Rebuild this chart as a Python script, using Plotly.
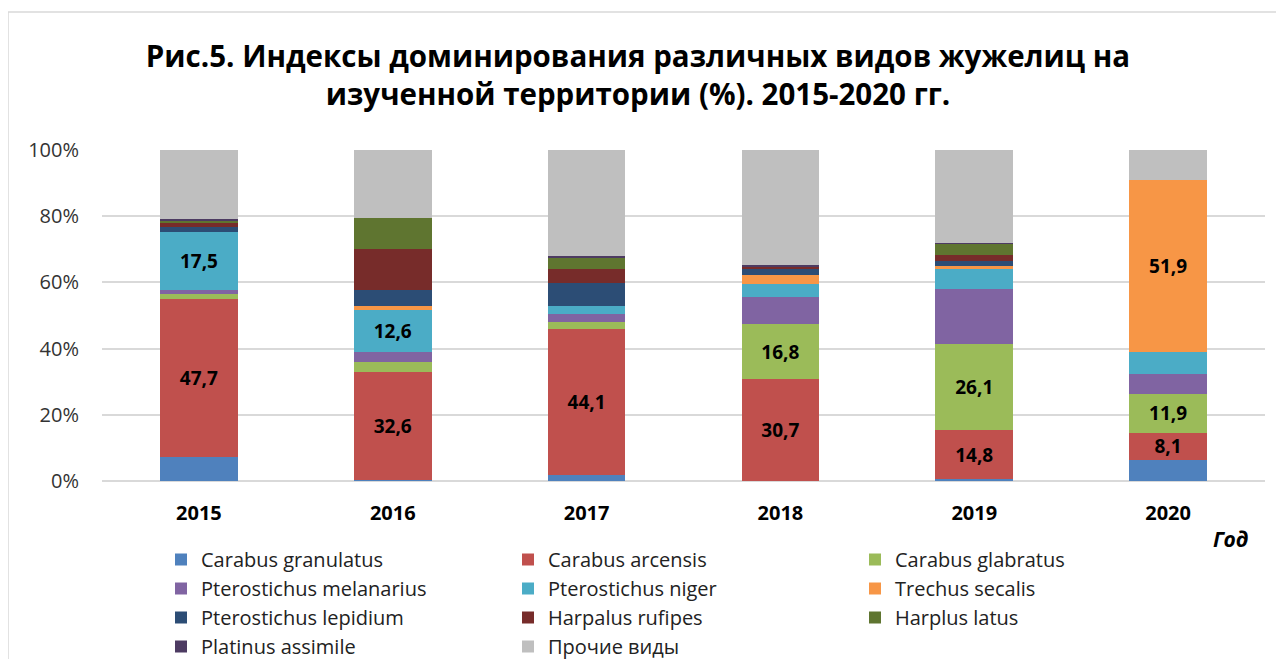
import plotly.graph_objects as go

years = ["2015", "2016", "2017", "2018", "2019", "2020"]

series_names = [
    "Carabus granulatus", "Carabus arcensis", "Carabus glabratus",
    "Pterostichus melanarius", "Pterostichus niger", "Trechus secalis",
    "Pterostichus lepidium", "Harpalus rufipes", "Harplus latus",
    "Platinus assimile", "Прочие виды",
]

carabus_granulatus = [7.3, 0.2, 1.7, 0.0, 0.6, 6.4]
carabus_arcensis = [47.7, 32.6, 44.1, 30.7, 14.8, 8.1]
carabus_glabratus = [1.6, 3.3, 2.1, 16.8, 26.1, 11.9]
pterostichus_melanarius = [1.2, 3.0, 2.5, 8.0, 16.5, 6.0]
pterostichus_niger = [17.5, 12.6, 2.5, 3.9, 6.0, 6.7]
trechus_secalis = [0.0, 1.2, 0.0, 2.9, 1.0, 51.9]
pterostichus_lepidium = [1.4, 4.8, 6.9, 2.0, 1.6, 0.0]
harpalus_rufipes = [1.1, 12.3, 4.3, 0.6, 1.6, 0.0]
harplus_latus = [0.9, 9.6, 3.3, 0.0, 3.4, 0.0]
platinus_assimile = [0.4, 0.0, 0.7, 0.4, 0.2, 0.0]
prochie_vidy = [20.9, 20.4, 31.9, 34.7, 28.2, 9.0]

series_values = [
    carabus_granulatus, carabus_arcensis, carabus_glabratus,
    pterostichus_melanarius, pterostichus_niger, trechus_secalis,
    pterostichus_lepidium, harpalus_rufipes, harplus_latus,
    platinus_assimile, prochie_vidy,
]

# which segments carry a data label (series index -> years labelled)
labelled = {
    1: ["2015", "2016", "2017", "2018", "2019", "2020"],
    2: ["2018", "2019", "2020"],
    4: ["2015", "2016"],
    5: ["2020"],
}

colors = [
    "#4F81BD", "#C0504D", "#9BBB59", "#8064A2", "#4BACC6", "#F79646",
    "#2C4D75", "#772C2A", "#5F7530", "#4D3B62", "#BFBFBF",
]

FONT = "Open Sans"

fig = go.Figure()
for i, (name, vals) in enumerate(zip(series_names, series_values)):
    txt = [
        (f"{v:.1f}".replace(".", ",") if y in labelled.get(i, []) else "")
        for y, v in zip(years, vals)
    ]
    fig.add_trace(go.Bar(
        x=years, y=vals, name=name,
        marker=dict(color=colors[i], line=dict(width=0)),
        text=txt, textposition="inside", insidetextanchor="middle",
        textangle=0, constraintext="none",
        textfont=dict(family=FONT, size=19, color="black", weight="bold"),
        hoverinfo="skip",
    ))

# page offset (body margin) between figure coords and picture coords
OFF = 8
W, H = 1284, 659
# plot area in picture pixels
PX_L, PX_R, PX_T, PX_B = 102, 1265, 150, 481
L = PX_L - OFF
T = PX_T - OFF
R = W - (PX_R - OFF)
B = H - (PX_B - OFF)
pw = W - L - R
ph = H - T - B


def px_to_paper_x(px):
    return (px - PX_L) / pw


def px_to_paper_y(py):
    return (PX_B - py) / ph


fig.update_layout(
    width=W, height=H,
    barmode="stack", bargap=0.6,
    plot_bgcolor="white", paper_bgcolor="white",
    margin=dict(l=L, r=R, t=T, b=B, autoexpand=False),
    font=dict(family=FONT, color="#222222"),
    title=dict(
        text="Рис.5. Индексы доминирования различных видов жужелиц на<br>изученной территории (%). 2015-2020 гг.",
        font=dict(family=FONT, size=29.5, color="black", weight="bold"),
        x=(638 - OFF) / W, xanchor="center", xref="container",
        y=1 - (67 - OFF) / H, yanchor="top", yref="container",
    ),
    xaxis=dict(
        type="category", showgrid=False, showline=False, ticks="",
        tickfont=dict(family=FONT, size=20, color="black", weight="bold"),
        ticklabelstandoff=18,
    ),
    yaxis=dict(
        range=[0, 100], tickvals=[0, 20, 40, 60, 80, 100],
        ticktext=["0%", "20%", "40%", "60%", "80%", "100%"],
        showgrid=True, gridcolor="#D9D9D9", gridwidth=1.5,
        zeroline=True, zerolinecolor="#D9D9D9", zerolinewidth=1.5,
        showline=False, ticks="",
        tickfont=dict(family=FONT, size=20, color="#333333"),
        ticklabelstandoff=22,
    ),
    legend=dict(
        orientation="h", traceorder="normal",
        x=px_to_paper_x(161), xanchor="left",
        y=px_to_paper_y(540), yanchor="top",
        entrywidth=302, entrywidthmode="pixels",
        font=dict(family=FONT, size=20, color="#222222"),
        bgcolor="rgba(0,0,0,0)",
    ),
    showlegend=True,
    annotations=[dict(
        text="<b><i>Год</i></b>", xref="paper", yref="paper",
        x=px_to_paper_x(1230), y=px_to_paper_y(539),
        xanchor="center", yanchor="middle", showarrow=False,
        font=dict(family=FONT, size=21, color="black"),
    )],
    shapes=[dict(
        type="rect", xref="paper", yref="paper",
        x0=px_to_paper_x(8), x1=px_to_paper_x(1320),
        y0=px_to_paper_y(700), y1=px_to_paper_y(12),
        line=dict(color="#D9D9D9", width=1.5), fillcolor="rgba(0,0,0,0)",
        layer="below",
    )],
)

fig.write_html("out.html")
